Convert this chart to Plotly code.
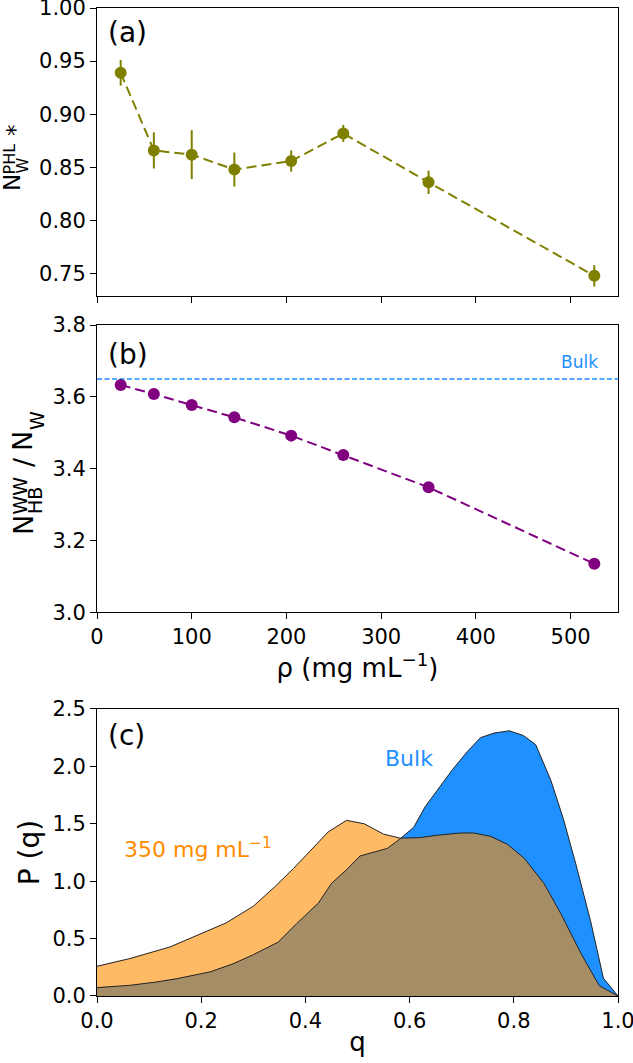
import plotly.graph_objects as go

# panel (a) / (b): concentration series
rho = [25, 60, 100, 145, 205, 260, 350, 525]
n_phl = [0.939, 0.866, 0.862, 0.848, 0.856, 0.882, 0.836, 0.748]
n_phl_err = [0.012, 0.017, 0.023, 0.016, 0.010, 0.008, 0.011, 0.010]
n_hb = [3.633, 3.608, 3.577, 3.543, 3.492, 3.438, 3.348, 3.135]
n_hb_bulk = 3.65

# panel (c): P(q) distributions
q_bulk = [0.0, 0.063, 0.114, 0.152, 0.217, 0.261, 0.300, 0.348, 0.383, 0.425, 0.450,
          0.479, 0.505, 0.531, 0.557, 0.582, 0.608, 0.630, 0.653, 0.682, 0.711, 0.736,
          0.762, 0.791, 0.818, 0.842, 0.871, 0.895, 0.919, 0.947, 0.972, 1.0]
p_bulk = [0.073, 0.093, 0.122, 0.15, 0.21, 0.28, 0.36, 0.47, 0.63, 0.81, 0.98,
          1.10, 1.22, 1.25, 1.285, 1.37, 1.47, 1.65, 1.79, 1.97, 2.13, 2.25,
          2.29, 2.31, 2.27, 2.19, 1.88, 1.545, 1.15, 0.66, 0.155, 0.0]
q_350 = [0.0, 0.063, 0.140, 0.197, 0.248, 0.300, 0.341, 0.377, 0.402, 0.444, 0.479,
         0.513, 0.550, 0.582, 0.621, 0.653, 0.698, 0.723, 0.756, 0.788, 0.820, 0.858,
         0.890, 0.929, 0.964, 1.0]
p_350 = [0.259, 0.326, 0.427, 0.538, 0.637, 0.782, 0.95, 1.11, 1.23, 1.43, 1.53,
         1.50, 1.41, 1.375, 1.38, 1.40, 1.42, 1.42, 1.39, 1.32, 1.20, 0.98,
         0.72, 0.37, 0.09, 0.0]

# tick positions / labels
rho_ticks = [0, 100, 200, 300, 400, 500]
a_ticks = [0.75, 0.80, 0.85, 0.90, 0.95, 1.00]
b_ticks = [3.0, 3.2, 3.4, 3.6, 3.8]
c_yticks = [0.0, 0.5, 1.0, 1.5, 2.0, 2.5]
c_xticks = [0.0, 0.2, 0.4, 0.6, 0.8, 1.0]

FONT = 'DejaVu Sans'
OLIVE = '#808000'
PURPLE = '#800080'
BLUE = '#1E90FF'
ORANGE = '#FF8C00'

fig = go.Figure()

# (a)
fig.add_trace(go.Scatter(x=rho, y=n_phl, mode='lines+markers',
    error_y=dict(type='data', array=n_phl_err, color=OLIVE, thickness=2, width=0),
    line=dict(color=OLIVE, width=2, dash='10px,5px'),
    marker=dict(color=OLIVE, size=12), xaxis='x', yaxis='y'))

# (b)
fig.add_trace(go.Scatter(x=[0, 550], y=[n_hb_bulk, n_hb_bulk], mode='lines',
    line=dict(color=BLUE, width=1.5, dash='5px,2.5px'), xaxis='x2', yaxis='y2'))
fig.add_trace(go.Scatter(x=rho, y=n_hb, mode='lines+markers',
    line=dict(color=PURPLE, width=2, dash='10px,5px'),
    marker=dict(color=PURPLE, size=12), xaxis='x2', yaxis='y2'))

# (c) fills then edges on top
fig.add_trace(go.Scatter(x=q_bulk, y=p_bulk, mode='none', fill='tozeroy',
    fillcolor=BLUE, xaxis='x3', yaxis='y3'))
fig.add_trace(go.Scatter(x=q_350, y=p_350, mode='none', fill='tozeroy',
    fillcolor='rgba(255,140,0,0.6)', xaxis='x3', yaxis='y3'))
fig.add_trace(go.Scatter(x=q_bulk, y=p_bulk, mode='lines',
    line=dict(color='#222', width=1), xaxis='x3', yaxis='y3'))
fig.add_trace(go.Scatter(x=q_350, y=p_350, mode='lines',
    line=dict(color='#222', width=1), xaxis='x3', yaxis='y3'))

ax = dict(showline=True, mirror=True, linecolor='black', linewidth=1,
          ticks='outside', ticklen=6, tickwidth=1, tickcolor='black',
          showgrid=False, zeroline=False, automargin=False,
          ticklabeloverflow='allow',
          tickfont=dict(family=FONT, size=21, color='black'))
title_font = dict(family=FONT, size=26, color='black')

fig.update_layout(
    width=633, height=1063, showlegend=False,
    plot_bgcolor='white', paper_bgcolor='white',
    margin=dict(l=97, r=15, t=8, b=67),
    font=dict(family=FONT, color='black'),
    xaxis=dict(ax, domain=[0, 1], range=[0, 550], tickvals=rho_ticks,
               showticklabels=False, anchor='y'),
    yaxis=dict(ax, domain=[0.7085, 1.0], range=[0.729, 1.0], tickvals=a_ticks,
               ticktext=['%.2f' % v for v in a_ticks], anchor='x'),
    xaxis2=dict(ax, domain=[0, 1], range=[0, 550], tickvals=rho_ticks, anchor='y2',
                title=dict(text='ρ (mg mL<sup>−1</sup>)', font=title_font, standoff=2)),
    yaxis2=dict(ax, domain=[0.3884, 0.6791], range=[3.0, 3.8], tickvals=b_ticks,
                ticktext=['%.1f' % v for v in b_ticks], anchor='x2'),
    xaxis3=dict(ax, domain=[0, 1], range=[0, 1], tickvals=c_xticks,
                ticktext=['%.1f' % v for v in c_xticks], anchor='y3',
                title=dict(text='q', font=title_font, standoff=0)),
    yaxis3=dict(ax, domain=[0, 0.2905], range=[0, 2.5], tickvals=c_yticks,
                ticktext=['%.1f' % v for v in c_yticks], anchor='x3',
                title=dict(text='P (q)', font=dict(title_font, size=28), standoff=4)),
)

# stacked sub/superscript y titles built from rotated pieces
def ylab(text, px, py, size):
    fig.add_annotation(text=text, xref='paper', yref='paper', x=0, y=(996 - py) / 988,
                       xshift=px - 97, xanchor='center', yanchor='middle',
                       textangle=-90, showarrow=False, borderpad=0,
                       font=dict(family=FONT, size=size, color='black'))

ylab('N', 12, 183, 23)
ylab('PHL', 9.5, 159, 16)
ylab('W', 21.5, 166, 16)
ylab('*', 15, 130, 23)

ylab('N', 23, 525, 27)
ylab('WW', 19.5, 496, 19)
ylab('HB', 35, 501, 19)
ylab('/', 24, 462, 27)
ylab('N', 23, 441, 27)
ylab('W', 37, 421, 19)

label_font = dict(family=FONT, size=28, color='black')
for txt, xr, yr, yy in [('(a)', 'x domain', 'y domain', 0.978),
                        ('(b)', 'x2 domain', 'y2 domain', 0.962),
                        ('(c)', 'x3 domain', 'y3 domain', 0.972)]:
    fig.add_annotation(text=txt, xref=xr, yref=yr, x=0.017, y=yy,
                       xanchor='left', yanchor='top', showarrow=False, font=label_font)

fig.add_annotation(text='Bulk', xref='x2', yref='y2', x=531, y=3.697, xanchor='right',
                   yanchor='middle', showarrow=False,
                   font=dict(family=FONT, size=17, color=BLUE))
fig.add_annotation(text='Bulk', xref='x3', yref='y3', x=0.598, y=2.07, xanchor='center',
                   yanchor='middle', showarrow=False,
                   font=dict(family=FONT, size=22, color=BLUE))
fig.add_annotation(text='350 mg mL<sup>−1</sup>', xref='x3', yref='y3', x=0.193, y=1.29,
                   xanchor='center', yanchor='middle', showarrow=False,
                   font=dict(family=FONT, size=22, color=ORANGE))

# page body has a default 8px margin; drop it so the figure sits at the window corner
fig.write_html('out.html', config={'displayModeBar': False},
               post_script="document.body.style.margin='0';")
